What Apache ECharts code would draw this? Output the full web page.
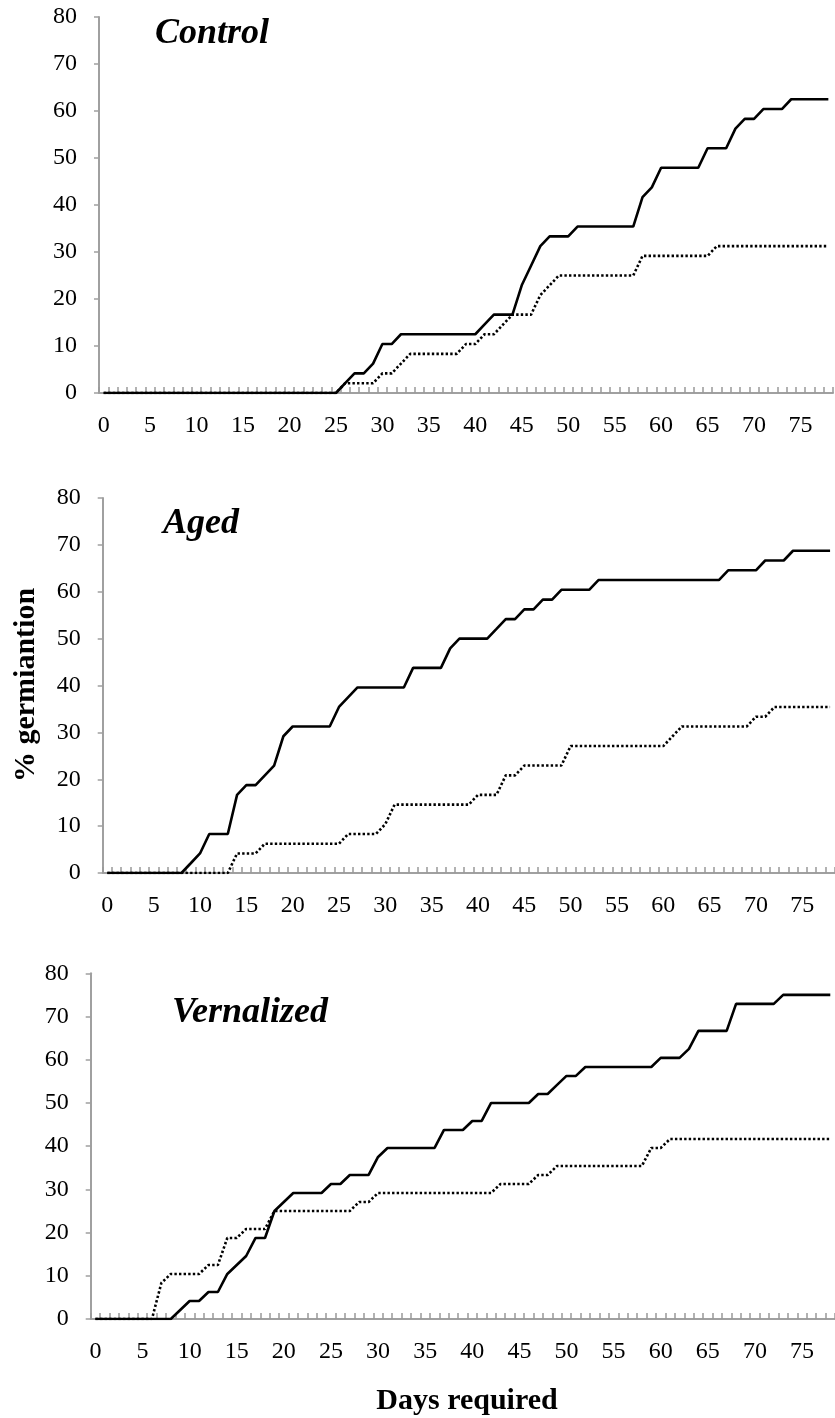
<!DOCTYPE html>
<html>
<head>
<meta charset="utf-8">
<script src="https://cdn.jsdelivr.net/npm/echarts@6/dist/echarts.min.js"></script>
<style>
html,body{margin:0;padding:0;background:#fff;}
#chart{width:835px;height:1418px;}
</style>
</head>
<body>
<div id="chart"></div>
<script>
// ---- data ----
var days = ['0','1','2','3','4','5','6','7','8','9','10','11','12','13','14','15','16','17','18','19',
  '20','21','22','23','24','25','26','27','28','29','30','31','32','33','34','35','36','37','38','39',
  '40','41','42','43','44','45','46','47','48','49','50','51','52','53','54','55','56','57','58','59',
  '60','61','62','63','64','65','66','67','68','69','70','71','72','73','74','75','76','77','78'];

var panelTitles = ['Control', 'Aged', 'Vernalized'];
var yTicks = [0, 10, 20, 30, 40, 50, 60, 70, 80];

var controlSolid = [0,0,0,0,0,0,0,0,0,0, 0,0,0,0,0,0,0,0,0,0, 0,0,0,0,0,0,
  2.08,4.17,4.17,6.25,10.42,10.42,
  12.5,12.5,12.5,12.5,12.5,12.5,12.5,12.5,12.5,
  14.58,16.67,16.67,16.67,22.92,27.08,31.25,33.33,33.33,33.33,
  35.42,35.42,35.42,35.42,35.42,35.42,35.42,
  41.67,43.75,47.92,47.92,47.92,47.92,47.92,
  52.08,52.08,52.08,56.25,58.33,58.33,60.42,60.42,60.42,
  62.5,62.5,62.5,62.5,62.5];
var controlDotted = [0,0,0,0,0,0,0,0,0,0, 0,0,0,0,0,0,0,0,0,0, 0,0,0,0,0,0,
  2.08,2.08,2.08,2.08,4.17,4.17,6.25,
  8.33,8.33,8.33,8.33,8.33,8.33,10.42,10.42,12.5,12.5,14.58,
  16.67,16.67,16.67,20.83,22.92,
  25,25,25,25,25,25,25,25,25,
  29.17,29.17,29.17,29.17,29.17,29.17,29.17,29.17,
  31.25,31.25,31.25,31.25,31.25,31.25,31.25,31.25,31.25,31.25,31.25,31.25,31.25];

var agedSolid = [0,0,0,0,0,0,0,0,0,
  2.08,4.17,8.33,8.33,8.33,16.67,18.75,18.75,20.83,22.92,29.17,
  31.25,31.25,31.25,31.25,31.25,35.42,37.5,
  39.58,39.58,39.58,39.58,39.58,39.58,
  43.75,43.75,43.75,43.75,47.92,50,50,50,50,52.08,
  54.17,54.17,56.25,56.25,58.33,58.33,60.42,60.42,60.42,60.42,
  62.5,62.5,62.5,62.5,62.5,62.5,62.5,62.5,62.5,62.5,62.5,62.5,62.5,62.5,
  64.58,64.58,64.58,64.58,66.67,66.67,66.67,
  68.75,68.75,68.75,68.75,68.75];
var agedDotted = [0,0,0,0,0,0,0,0,0,0,0,0,0,0,
  4.17,4.17,4.17,
  6.25,6.25,6.25,6.25,6.25,6.25,6.25,6.25,6.25,
  8.33,8.33,8.33,8.33,10.42,
  14.58,14.58,14.58,14.58,14.58,14.58,14.58,14.58,14.58,
  16.67,16.67,16.67,20.83,20.83,
  22.92,22.92,22.92,22.92,22.92,
  27.08,27.08,27.08,27.08,27.08,27.08,27.08,27.08,27.08,27.08,27.08,
  29.17,31.25,31.25,31.25,31.25,31.25,31.25,31.25,31.25,
  33.33,33.33,35.42,35.42,35.42,35.42,35.42,35.42,35.42];

var vernSolid = [0,0,0,0,0,0,0,0,0,
  2.08,4.17,4.17,6.25,6.25,10.42,12.5,14.58,18.75,18.75,25,27.08,
  29.17,29.17,29.17,29.17,31.25,31.25,33.33,33.33,33.33,37.5,
  39.58,39.58,39.58,39.58,39.58,39.58,
  43.75,43.75,43.75,45.83,45.83,
  50,50,50,50,50,52.08,52.08,54.17,56.25,56.25,
  58.33,58.33,58.33,58.33,58.33,58.33,58.33,58.33,
  60.42,60.42,60.42,62.5,66.67,66.67,66.67,66.67,
  72.92,72.92,72.92,72.92,72.92,75,75,75,75,75,75];
var vernDotted = [0,0,0,0,0,0,0,
  8.33,10.42,10.42,10.42,10.42,12.5,12.5,18.75,18.75,20.83,20.83,20.83,
  25,25,25,25,25,25,25,25,25,27.08,27.08,
  29.17,29.17,29.17,29.17,29.17,29.17,29.17,29.17,29.17,29.17,29.17,29.17,29.17,
  31.25,31.25,31.25,31.25,33.33,33.33,
  35.42,35.42,35.42,35.42,35.42,35.42,35.42,35.42,35.42,35.42,
  39.58,39.58,
  41.67,41.67,41.67,41.67,41.67,41.67,41.67,41.67,41.67,41.67,41.67,41.67,41.67,41.67,41.67,41.67,41.67,41.67];

var yTitle = '% germiantion';
var xTitle = 'Days required';

// ---- chart ----
var FONT = "'Liberation Serif','Times New Roman',serif";
var GREY = '#a0a0a0';
var grids = [
  {left: 99, top: 17, width: 734, height: 376},
  {left: 102.7, top: 498, width: 732, height: 375},
  {left: 90.7, top: 973.3, width: 753, height: 345.7}
];
var seriesData = [[controlSolid, controlDotted],[agedSolid, agedDotted],[vernSolid, vernDotted]];

var xAxes = [], yAxes = [], series = [];
for (var p = 0; p < 3; p++) {
  xAxes.push({
    type: 'category', gridIndex: p, data: days, boundaryGap: true,
    axisLine: {show: true, lineStyle: {color: GREY, width: 2}},
    axisTick: {show: true, inside: true, length: 6, interval: 0, lineStyle: {color: '#999', width: 1.5}},
    axisLabel: {interval: 4, color: '#000', fontFamily: FONT, fontSize: 24, margin: 21},
    splitLine: {show: false}
  });
  yAxes.push({
    type: 'value', gridIndex: p, min: yTicks[0], max: yTicks[yTicks.length-1], interval: 10,
    axisLine: {show: true, lineStyle: {color: GREY, width: 2}},
    axisTick: {show: true, inside: false, length: 5, lineStyle: {color: GREY, width: 1.5}},
    axisLabel: {color: '#000', fontFamily: FONT, fontSize: 24, margin: 22},
    splitLine: {show: false}
  });
  series.push({
    type: 'line', xAxisIndex: p, yAxisIndex: p, data: seriesData[p][0],
    symbol: 'none', animation: false, z: 3,
    lineStyle: {color: '#000', width: 2.6, type: 'solid'}
  });
  series.push({
    type: 'line', xAxisIndex: p, yAxisIndex: p, data: seriesData[p][1],
    symbol: 'none', animation: false, z: 4,
    lineStyle: {color: '#000', width: 2.6, type: [2.4, 2.2]}
  });
}

var titlePos = [[155, 37], [163, 527], [172, 1016]];
var graphics = [];
for (var t = 0; t < 3; t++) {
  graphics.push({
    type: 'text', left: titlePos[t][0], top: titlePos[t][1] - 21, z: 10,
    style: {text: panelTitles[t], fill: '#000', font: "italic bold 36px " + FONT}
  });
}
graphics.push({
  type: 'text', x: 26, y: 685, rotation: Math.PI / 2, z: 10,
  style: {text: yTitle, fill: '#000', font: "bold 30px " + FONT, align: 'center', verticalAlign: 'middle'}
});
graphics.push({
  type: 'text', x: 467, y: 1401, z: 10,
  style: {text: xTitle, fill: '#000', font: "bold 30px " + FONT, align: 'center', verticalAlign: 'middle'}
});

var chart = echarts.init(document.getElementById('chart'), null, {renderer: 'canvas'});
chart.setOption({
  backgroundColor: '#fff',
  animation: false,
  grid: grids,
  xAxis: xAxes,
  yAxis: yAxes,
  series: series,
  graphic: graphics
});
</script>
</body>
</html>
